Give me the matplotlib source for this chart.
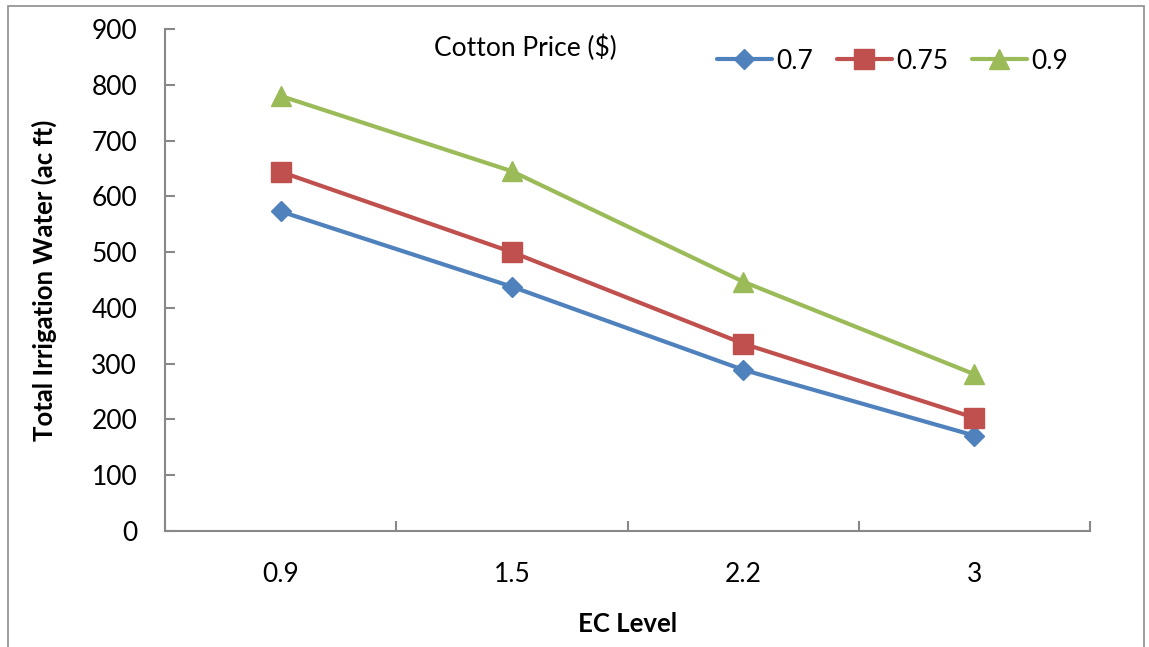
import matplotlib.pyplot as plt
from matplotlib.patches import Rectangle

# Total irrigation water by EC level for three cotton prices
ec_levels = ['0.9', '1.5', '2.2', '3']
price_labels = ['0.7', '0.75', '0.9']
water_070 = [573, 438, 289, 171]
water_075 = [644, 500, 336, 203]
water_090 = [780, 645, 447, 281]

colors = ['#4F81BD', '#C0504D', '#9BBB59']
markers = ['D', 's', '^']
sizes = [10, 14, 15]

plt.rcParams['font.family'] = ['Lato', 'DejaVu Sans']

fig = plt.figure(figsize=(11.49, 6.47), dpi=100)
ax = fig.add_axes([0.1436, 0.1793, 0.8051, 0.7759])

x = list(range(len(ec_levels)))
for vals, lab, c, m, s in zip([water_070, water_075, water_090], price_labels, colors, markers, sizes):
    ax.plot(x, vals, color=c, lw=3, marker=m, markersize=s, label=lab,
            solid_capstyle='round', clip_on=False)

ax.set_xlim(-0.5, len(ec_levels) - 0.5)
ax.set_ylim(0, 900)
ax.set_yticks(range(0, 901, 100))
ax.set_xticks(x)
ax.set_xticklabels(ec_levels)
ax.set_xticks([i - 0.5 for i in range(len(ec_levels) + 1)], minor=True)

for side in ['top', 'right']:
    ax.spines[side].set_visible(False)
for side in ['left', 'bottom']:
    ax.spines[side].set_color('#888888')
    ax.spines[side].set_linewidth(1.5)

ax.tick_params(axis='y', direction='in', length=7, width=1.5, color='#888888',
               labelsize=19, pad=20)
ax.tick_params(axis='x', which='major', length=0, labelsize=19, pad=22)
ax.tick_params(axis='x', which='minor', direction='in', length=7, width=1.5,
               color='#888888')

ax.set_ylabel('Total Irrigation Water (ac ft)', fontsize=18.5, fontweight='bold', labelpad=25)
ax.set_xlabel('EC Level', fontsize=18.5, fontweight='bold', labelpad=18)

fig.text(0.378, 0.926, 'Cotton Price ($)', fontsize=19, ha='left', va='center')
ax.legend(ncol=3, loc='center left', bbox_to_anchor=(0.585, 0.936), frameon=False,
          fontsize=19, handlelength=2.1, handletextpad=0.15, columnspacing=0.9,
          borderaxespad=0)

# thin frame around the whole chart
fig.add_artist(Rectangle((8 / 1149, -0.05), 1136 / 1149, 1.05 - 6 / 647,
                         transform=fig.transFigure, fill=False,
                         edgecolor='#8c8c8c', lw=1.2))

fig.savefig('out.png', dpi=100)
